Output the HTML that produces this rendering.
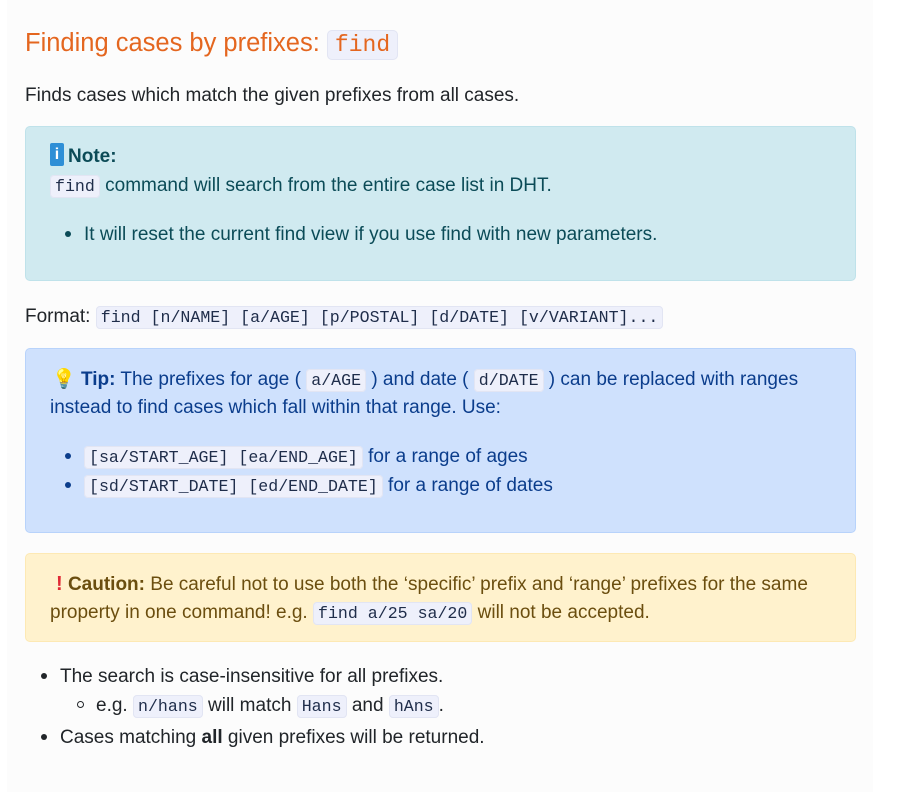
<!DOCTYPE html>
<html><head><meta charset="utf-8"><style>
*{margin:0;padding:0;box-sizing:border-box}
html,body{width:911px;height:798px;background:#fff;overflow:hidden;font-family:"Liberation Sans",sans-serif;font-size:19px;color:#212529}
#pg{position:absolute;left:7px;top:0;width:866px;height:792px;background:#fcfcfc}
.l{position:absolute;white-space:nowrap;line-height:26px;height:26px}
code{font-family:"Liberation Mono",monospace;font-size:16.6px;background:#eef0fb;border:1px solid #e2e5f3;border-radius:4px;padding:1px 4px;color:#1f2d4a}
.box{position:absolute;left:25px;width:831px;border-radius:5px;border:1px solid}
.dot{display:inline-block;width:6px;height:6px;border-radius:50%;background:currentColor;vertical-align:middle;margin-right:13px;position:relative;top:-1px}
.ring{display:inline-block;width:7px;height:7px;border-radius:50%;border:1.3px solid currentColor;vertical-align:middle;margin-right:12px;position:relative;top:-1px}
</style></head><body>
<div id="pg"></div>
<div class="l" style="left:25px;top:26px;height:34px;line-height:34px;font-size:25.5px;color:#e4661f">Finding cases by prefixes: <code style="font-size:23px;color:#e4661f;padding:1px 7px;border-radius:5px">find</code></div>
<div class="l" style="left:25px;top:83px">Finds cases which match the given prefixes from all cases.</div>

<div class="box" style="top:126px;height:155px;background:#d0eaf0;border-color:#bfe2ea"></div>
<div class="l" style="left:50px;top:144px;color:#0b4b57;font-weight:bold"><span style="display:inline-block;width:14px;height:23px;background:#2f8fd6;border-radius:2px;color:#fff;font-size:16px;line-height:23px;text-align:center;vertical-align:middle;margin-right:4px;position:relative;top:-2px">i</span>Note:</div>
<div class="l" style="left:50px;top:173px;color:#0b4b57"><code>find</code> command will search from the entire case list in DHT.</div>
<div class="l" style="left:65px;top:222px;color:#0b4b57"><span class="dot"></span>It will reset the current find view if you use find with new parameters.</div>

<div class="l" style="left:25px;top:304px">Format: <code>find [n/NAME] [a/AGE] [p/POSTAL] [d/DATE] [v/VARIANT]...</code></div>

<div class="box" style="top:348px;height:185px;background:#cfe1fd;border-color:#b8d3fb"></div>
<div class="l" style="left:52px;top:367px;color:#0b3d8c"><span style="color:#f3c624">💡</span> <b>Tip:</b> The prefixes for age ( <code>a/AGE</code> ) and date ( <code>d/DATE</code> ) can be replaced with ranges</div>
<div class="l" style="left:50px;top:395px;color:#0b3d8c">instead to find cases which fall within that range. Use:</div>
<div class="l" style="left:65px;top:444px;color:#0b3d8c"><span class="dot"></span><code>[sa/START_AGE] [ea/END_AGE]</code> for a range of ages</div>
<div class="l" style="left:65px;top:473px;color:#0b3d8c"><span class="dot"></span><code>[sd/START_DATE] [ed/END_DATE]</code> for a range of dates</div>

<div class="box" style="top:553px;height:89px;background:#fff2cd;border-color:#fde9b4"></div>
<div class="l" style="left:56px;top:571px;color:#6b4e0f"><span style="color:#e02a35;font-weight:bold;font-size:20px">!</span> <b>Caution:</b> Be careful not to use both the ‘specific’ prefix and ‘range’ prefixes for the same</div>
<div class="l" style="left:50px;top:600px;color:#6b4e0f">property in one command! e.g. <code>find a/25 sa/20</code> will not be accepted.</div>

<div class="l" style="left:41px;top:664px"><span class="dot"></span>The search is case-insensitive for all prefixes.</div>
<div class="l" style="left:77px;top:693px"><span class="ring"></span>e.g. <code>n/hans</code> will match <code>Hans</code> and <code>hAns</code>.</div>
<div class="l" style="left:41px;top:725px"><span class="dot"></span>Cases matching <b>all</b> given prefixes will be returned.</div>
</body></html>
